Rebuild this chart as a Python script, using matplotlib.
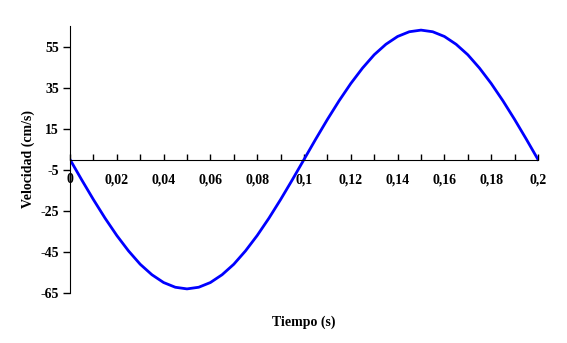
import matplotlib
matplotlib.use('Agg')
import matplotlib.pyplot as plt
from matplotlib.ticker import MultipleLocator

# values (every 0.005 s)
tiempo = [0.0, 0.005, 0.01, 0.015, 0.02, 0.025, 0.03, 0.035, 0.04, 0.045, 0.05,
          0.055, 0.06, 0.065, 0.07, 0.075, 0.08, 0.085, 0.09, 0.095, 0.1,
          0.105, 0.11, 0.115, 0.12, 0.125, 0.13, 0.135, 0.14, 0.145, 0.15,
          0.155, 0.16, 0.165, 0.17, 0.175, 0.18, 0.185, 0.19, 0.195, 0.2]
velocidad = [0.0, -9.9, -19.5, -28.6, -37.0, -44.5, -51.0, -56.1, -59.9, -62.2, -63.0,
             -62.2, -59.9, -56.1, -51.0, -44.5, -37.0, -28.6, -19.5, -9.9, 0.0,
             9.9, 19.5, 28.6, 37.0, 44.5, 51.0, 56.1, 59.9, 62.2, 63.0,
             62.2, 59.9, 56.1, 51.0, 44.5, 37.0, 28.6, 19.5, 9.9, 0.0]
yticks = [-65, -45, -25, -5, 15, 35, 55]
xticks = [0, 0.02, 0.04, 0.06, 0.08, 0.1, 0.12, 0.14, 0.16, 0.18, 0.2]
xlabels = ['0', '0,02', '0,04', '0,06', '0,08', '0,1', '0,12', '0,14', '0,16', '0,18', '0,2']

plt.rcParams['font.family'] = ['Liberation Serif', 'DejaVu Serif']
plt.rcParams['font.weight'] = 'bold'
plt.rcParams['font.size'] = 10
plt.rcParams['axes.unicode_minus'] = False

fig = plt.figure(figsize=(5.67, 3.43), dpi=100)
ax = fig.add_axes([70/567, 1-293/343, 468/567, 267/343])

ax.plot(tiempo, velocidad, color='#0000ff', linewidth=2)

ax.set_xlim(0, 0.2)
ax.set_ylim(-65, 65)

ax.spines['top'].set_visible(False)
ax.spines['right'].set_visible(False)
ax.spines['bottom'].set_position(('data', 0))

ax.set_yticks(yticks)
ax.set_xticks(xticks)
ax.set_xticklabels(xlabels)
ax.xaxis.set_minor_locator(MultipleLocator(0.01))

ax.tick_params(axis='x', which='both', direction='in', length=4, pad=10, width=1)
ax.tick_params(axis='y', direction='out', length=5, pad=3, width=1)

ax.set_xlabel('Tiempo (s)', fontweight='bold')
ax.set_ylabel('Velocidad (cm/s)', fontweight='bold')
ax.xaxis.set_label_coords(0.5, -0.086)
ax.yaxis.set_label_coords(-0.075, 0.5)

fig.savefig('out.png', dpi=100)
